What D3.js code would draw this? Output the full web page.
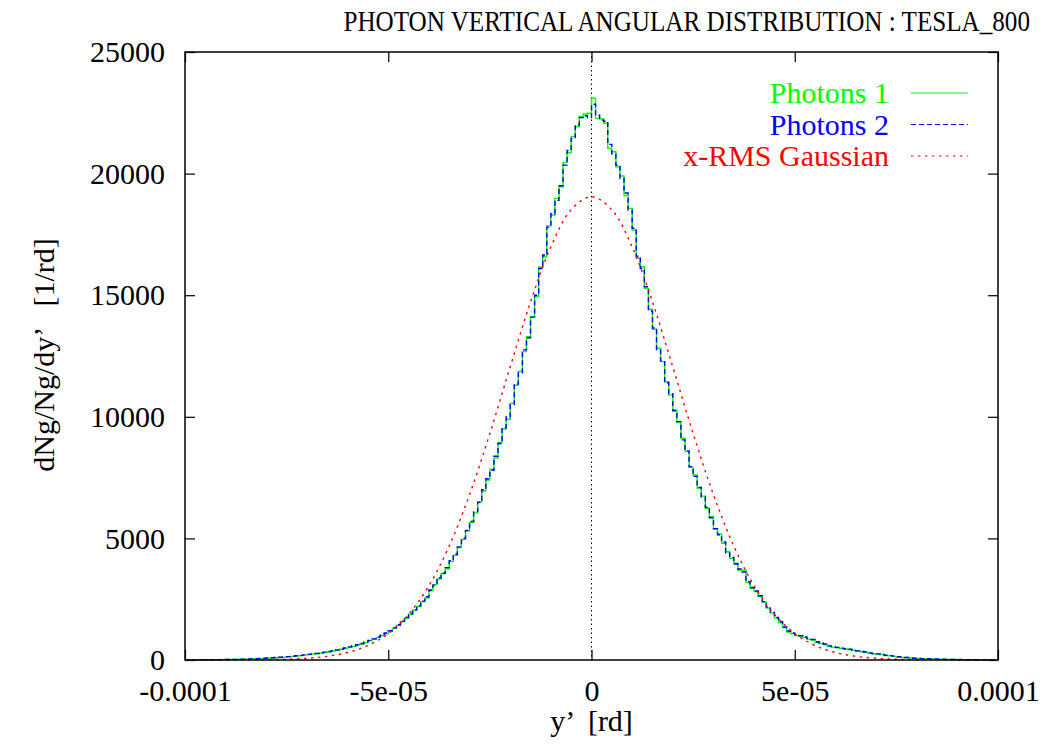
<!DOCTYPE html>
<html>
<head>
<meta charset="utf-8">
<script src="https://cdn.jsdelivr.net/npm/d3@7"></script>
<style>
  body { margin: 0; background: #fff; }
  svg { display: block; }
  text { font-family: 'Liberation Serif', 'Times New Roman', serif; }
</style>
</head>
<body>
<div id="chart"></div>
<script>
'use strict';

// Histogram bins: 200 bins of 1e-6 rd from -1e-4 to 1e-4 (left to right)
const photons1 = [
    3, 4, 5, 6, 7, 8, 10, 12, 14, 16,
    19, 22, 25, 29, 33, 38, 44, 50, 58, 65,
    75, 85, 95, 105, 120, 135, 150, 165, 180, 200,
    220, 240, 260, 285, 310, 340, 370, 400, 440, 480,
    520, 560, 610, 660, 720, 790, 850, 920, 1000, 1080,
    1170, 1300, 1420, 1580, 1720, 1880, 2050, 2200, 2400, 2550,
    2850, 3100, 3330, 3550, 3750, 4050, 4300, 4620, 4950, 5300,
    5650, 6050, 6500, 6950, 7400, 7850, 8300, 8950, 9500, 9900,
    10550, 11300, 11860, 12680, 13290, 14120, 14940, 16160, 16580, 17850,
    18300, 18980, 19460, 20450, 20860, 21520, 21930, 22350, 22450, 22480,
    23100, 22270, 22250, 22070, 21040, 20900, 20280, 19900, 19100, 18570,
    17680, 16520, 16170, 15280, 14420, 13600, 12820, 12270, 11440, 10900,
    10280, 9760, 9120, 8570, 7920, 7610, 7060, 6740, 6240, 5890,
    5370, 5180, 4800, 4450, 4180, 3980, 3700, 3690, 3180, 2950,
    2810, 2610, 2380, 2140, 1930, 1720, 1540, 1330, 1150, 1080,
    1010, 980, 930, 860, 820, 720, 680, 640, 560, 530,
    500, 470, 450, 430, 400, 360, 340, 320, 280, 260,
    240, 220, 185, 170, 150, 125, 110, 100, 80, 70,
    62, 55, 48, 42, 36, 32, 28, 25, 22, 19,
    17, 14, 12, 10, 9, 7, 6, 5, 4, 3
];

const photons2 = [
    3, 4, 5, 7, 8, 9, 11, 13, 15, 18,
    21, 24, 27, 31, 36, 41, 47, 54, 61, 70,
    80, 90, 100, 112, 126, 140, 156, 172, 190, 210,
    230, 250, 272, 296, 322, 352, 384, 418, 455, 495,
    540, 585, 630, 680, 745, 805, 870, 945, 1020, 1110,
    1200, 1320, 1450, 1600, 1750, 1900, 2060, 2230, 2420, 2600,
    2880, 3080, 3380, 3560, 3800, 4080, 4350, 4650, 5000, 5330,
    5700, 6100, 6480, 7000, 7450, 7800, 8380, 8900, 9550, 10000,
    10500, 11350, 11800, 12750, 13250, 14100, 15000, 16100, 16650, 17800,
    18350, 18900, 19500, 20350, 20950, 21450, 22000, 22300, 22380, 22300,
    22850, 22400, 22200, 22150, 21200, 20800, 20350, 19800, 19200, 18500,
    17750, 16600, 16100, 15350, 14350, 13650, 12750, 12300, 11400, 10950,
    10250, 9800, 9050, 8600, 7950, 7550, 7100, 6700, 6280, 5850,
    5400, 5150, 4850, 4400, 4220, 3950, 3740, 3620, 3220, 2980,
    2840, 2640, 2400, 2180, 1960, 1750, 1570, 1360, 1190, 1110,
    1040, 1000, 950, 880, 840, 750, 700, 660, 580, 550,
    520, 490, 465, 440, 410, 375, 350, 330, 295, 270,
    250, 228, 195, 178, 158, 132, 118, 105, 86, 75,
    66, 58, 51, 45, 39, 34, 30, 26, 23, 20,
    18, 15, 13, 11, 9, 8, 7, 5, 4, 3
];

// x-RMS Gaussian sampled every 5e-6 rd from -1e-4 to 1e-4
const gaussValues = [
    0, 1, 2, 5, 13, 30, 70, 151, 309, 597,
    1089, 1876, 3052, 4688, 6799, 9315, 12053, 14724, 16989, 18513,
    19050,
    18513, 16989, 14724, 12053, 9315, 6799, 4688, 3052, 1876, 1089,
    597, 309, 151, 70, 30, 13, 5, 2, 1, 0
];

const xTicks = [-1e-4, -5e-5, 0, 5e-5, 1e-4];
const xTickLabels = ['-0.0001', '-5e-05', '0', '5e-05', '0.0001'];
const yTicks = [0, 5000, 10000, 15000, 20000, 25000];
const yTickLabels = ['0', '5000', '10000', '15000', '20000', '25000'];

const legendItems = [
    { name: 'Photons 1', color: '#00ff00', dash: null },
    { name: 'Photons 2', color: '#0000ff', dash: '5,3' },
    { name: 'x-RMS Gaussian', color: '#ff0000', dash: '2.5,4.5' }
];

const width = 1044, height = 747;
const plotLeft = 185, plotRight = 998, plotTop = 52, plotBottom = 660;
const binWidth = 1e-6;

const svg = d3.select('#chart').append('svg')
    .attr('width', width).attr('height', height);

const x = d3.scaleLinear().domain([-1e-4, 1e-4]).range([plotLeft, plotRight]);
const y = d3.scaleLinear().domain([0, 25000]).range([plotBottom, plotTop]);

// bin edges and gaussian sample grid
const edges = d3.range(photons1.length + 1).map(i => -1e-4 + i * binWidth);
const gaussX = d3.range(gaussValues.length).map(i => -1e-4 + i * 5e-6);

function stepPoints(values) {
    let pts = values.map((v, i) => [edges[i], v]);
    pts.push([edges[values.length], values[values.length - 1]]);
    return pts;
}

const stepLine = d3.line()
    .x(d => x(d[0])).y(d => y(d[1]))
    .curve(d3.curveStepAfter);

const smoothLine = d3.line()
    .x(d => x(d[0])).y(d => y(d[1]))
    .curve(d3.curveCatmullRom);

const fontSize = 30;

// Axes (ticks inside the frame)
svg.append('g').attr('transform', `translate(${plotLeft},0)`)
    .call(d3.axisLeft(y).tickValues(yTicks).tickSize(-10).tickPadding(20)
        .tickFormat((d, i) => yTickLabels[i]));
svg.append('g').attr('transform', `translate(0,${plotBottom})`)
    .call(d3.axisBottom(x).tickValues(xTicks).tickSize(-10).tickPadding(20)
        .tickFormat((d, i) => xTickLabels[i]));
svg.append('g').attr('transform', `translate(${plotRight},0)`)
    .call(d3.axisRight(y).tickValues(yTicks).tickSize(-10).tickFormat(''));
svg.append('g').attr('transform', `translate(0,${plotTop})`)
    .call(d3.axisTop(x).tickValues(xTicks).tickSize(-10).tickFormat(''));

svg.selectAll('.domain').remove();
svg.selectAll('.tick line').attr('stroke', '#000').attr('stroke-width', 1.2);
svg.selectAll('.tick text')
    .attr('fill', '#000')
    .style('font-family', "'Liberation Serif', 'Times New Roman', serif")
    .style('font-size', fontSize + 'px');

// zero line
svg.append('line')
    .attr('x1', x(0)).attr('x2', x(0))
    .attr('y1', plotTop).attr('y2', plotBottom)
    .attr('stroke', '#000').attr('stroke-width', 1)
    .attr('stroke-dasharray', '1.5,3');

// Data curves
svg.append('path')
    .attr('d', stepLine(stepPoints(photons1)))
    .attr('fill', 'none').attr('stroke', '#00ff00').attr('stroke-width', 1.4);

svg.append('path')
    .attr('d', stepLine(stepPoints(photons2)))
    .attr('fill', 'none').attr('stroke', '#0000ff').attr('stroke-width', 1.4)
    .attr('stroke-dasharray', '5,3');

svg.append('path')
    .attr('d', smoothLine(gaussX.map((g, i) => [g, gaussValues[i]])))
    .attr('fill', 'none').attr('stroke', '#ff0000').attr('stroke-width', 1.4)
    .attr('stroke-dasharray', '2.5,4.5');

// Frame
svg.append('rect')
    .attr('x', plotLeft).attr('y', plotTop)
    .attr('width', plotRight - plotLeft).attr('height', plotBottom - plotTop)
    .attr('fill', 'none').attr('stroke', '#000').attr('stroke-width', 1.5);

// Legend
const legend = svg.append('g');
legendItems.forEach((item, i) => {
    let ly = 93 + i * 31.5;
    legend.append('text')
        .attr('x', 889).attr('y', ly + 10)
        .attr('text-anchor', 'end')
        .attr('fill', item.color)
        .style('font-size', fontSize + 'px')
        .text(item.name);
    legend.append('line')
        .attr('x1', 911).attr('x2', 968)
        .attr('y1', ly).attr('y2', ly)
        .attr('stroke', item.color).attr('stroke-width', 1.2)
        .attr('stroke-dasharray', item.dash);
});

// Title: condensed horizontally to fit the space right of x=343
const title = svg.append('text')
    .attr('text-anchor', 'end')
    .style('font-size', '29px')
    .text('PHOTON VERTICAL ANGULAR DISTRIBUTION : TESLA_800');
const titleLen = title.node().getComputedTextLength();
title.attr('transform', `translate(1030,31) scale(${687 / titleLen},1)`);

svg.append('text')
    .attr('x', (plotLeft + plotRight) / 2).attr('y', 731)
    .attr('text-anchor', 'middle')
    .style('font-size', fontSize + 'px')
    .style('white-space', 'pre')
    .text('y\u2019  [rd]');

svg.append('text')
    .attr('transform', 'translate(54,355) rotate(-90)')
    .attr('text-anchor', 'middle')
    .style('font-size', fontSize + 'px')
    .style('white-space', 'pre')
    .text('dNg/Ng/dy\u2019   [1/rd]');
</script>
</body>
</html>
